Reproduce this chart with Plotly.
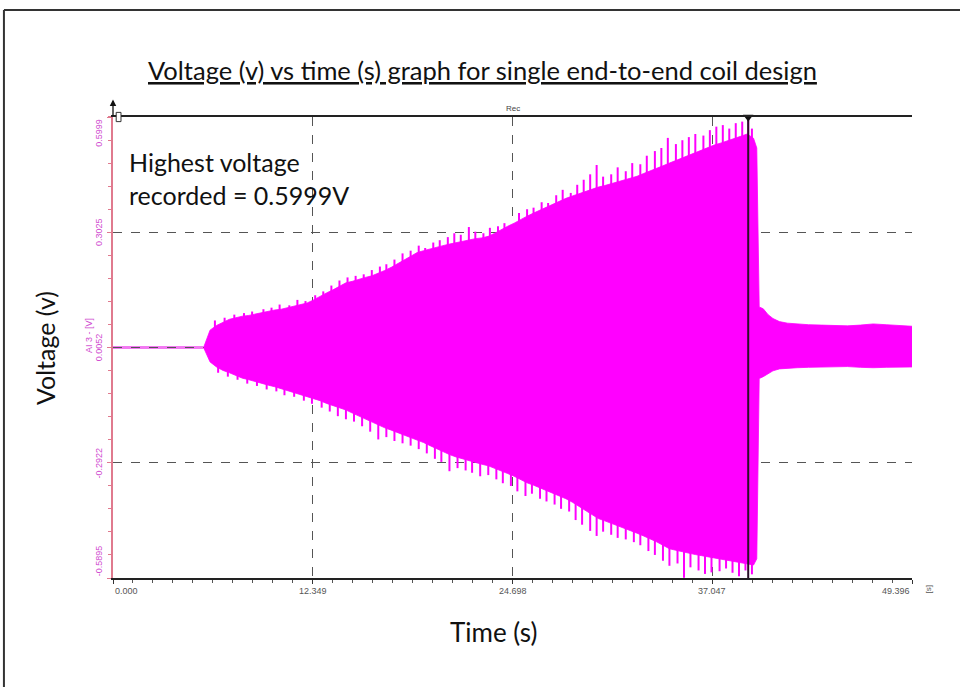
import plotly.graph_objects as go

# Axis ticks of the recorder display
x_ticks = [0.000, 12.349, 24.698, 37.047, 49.396]
x_tick_labels = ["0.000", "12.349", "24.698", "37.047", "49.396"]
y_ticks = [0.5999, 0.3025, 0.0052, -0.2922, -0.5895]
y_tick_labels = ["0.5999", "0.3025", "0.0052", "-0.2922", "-0.5895"]

# Idle baseline before the coil starts producing voltage
idle_t = [0.0, 5.6]
idle_v = [0.0052, 0.0052]

# Body of the oscillation envelope while the amplitude builds up (s, V)
rise_t = [5.6, 6.0, 6.4, 6.8, 7.2, 7.6, 8.0, 8.4, 8.8, 9.2, 9.6, 10.0, 10.4, 10.8,
          11.2, 11.6, 12.0, 12.4, 12.8, 13.2, 13.6, 14.0, 14.4, 14.8, 15.2, 15.6,
          16.0, 16.4, 16.8, 17.2, 17.6, 18.0, 18.4, 18.8, 19.2, 19.6, 20.0, 20.4,
          20.8, 21.2, 21.6, 22.0, 22.4, 22.8, 23.2, 23.6, 24.0, 24.4, 24.8, 25.2,
          25.6, 26.0, 26.4, 26.8, 27.2, 27.6, 28.0, 28.4, 28.8, 29.2, 29.6, 30.0,
          30.4, 30.8, 31.2, 31.6, 32.0, 32.4, 32.8, 33.2, 33.6, 34.0, 34.4, 34.8,
          35.2, 35.6, 36.0, 36.4, 36.8, 37.2, 37.6, 38.0, 38.4, 38.8, 39.2, 39.6]
rise_max = [0.005, 0.050, 0.062, 0.070, 0.078, 0.082, 0.086, 0.088, 0.092, 0.094,
            0.098, 0.102, 0.104, 0.108, 0.112, 0.116, 0.120, 0.128, 0.138, 0.146,
            0.154, 0.164, 0.172, 0.176, 0.182, 0.186, 0.190, 0.196, 0.204, 0.212,
            0.222, 0.232, 0.242, 0.250, 0.255, 0.260, 0.264, 0.268, 0.272, 0.276,
            0.280, 0.284, 0.286, 0.288, 0.292, 0.300, 0.310, 0.318, 0.326, 0.336,
            0.344, 0.352, 0.360, 0.368, 0.376, 0.384, 0.390, 0.396, 0.402, 0.408,
            0.414, 0.419, 0.423, 0.428, 0.432, 0.437, 0.442, 0.447, 0.454, 0.460,
            0.467, 0.474, 0.481, 0.488, 0.494, 0.500, 0.507, 0.514, 0.522, 0.528,
            0.533, 0.538, 0.543, 0.550, 0.556, 0.545]
rise_min = [0.005, -0.032, -0.045, -0.054, -0.060, -0.068, -0.074, -0.078, -0.083,
            -0.088, -0.092, -0.096, -0.101, -0.106, -0.110, -0.115, -0.120, -0.126,
            -0.132, -0.139, -0.144, -0.150, -0.156, -0.164, -0.172, -0.180, -0.188,
            -0.196, -0.202, -0.208, -0.214, -0.220, -0.226, -0.232, -0.240, -0.248,
            -0.256, -0.263, -0.271, -0.277, -0.282, -0.287, -0.291, -0.296, -0.300,
            -0.306, -0.313, -0.320, -0.327, -0.336, -0.344, -0.350, -0.357, -0.363,
            -0.370, -0.377, -0.385, -0.394, -0.404, -0.415, -0.426, -0.436, -0.442,
            -0.448, -0.454, -0.460, -0.468, -0.474, -0.481, -0.488, -0.496, -0.505,
            -0.514, -0.518, -0.522, -0.526, -0.529, -0.532, -0.535, -0.539, -0.542,
            -0.545, -0.548, -0.551, -0.553, -0.556]

# Envelope after the magnet leaves the coil (s, V)
tail_t = [39.8, 39.95, 40.2, 40.5, 40.8, 41.2, 41.7, 42.3, 43.0, 43.8, 44.6, 45.4,
          46.2, 47.0, 47.8, 48.6, 49.396]
tail_max = [0.52, 0.110, 0.105, 0.090, 0.080, 0.072, 0.068, 0.066, 0.064, 0.063,
            0.062, 0.061, 0.063, 0.066, 0.064, 0.062, 0.060]
tail_min = [-0.54, -0.075, -0.070, -0.062, -0.055, -0.050, -0.048, -0.047, -0.046,
            -0.045, -0.045, -0.044, -0.046, -0.047, -0.046, -0.045, -0.045]

# Individual cycle peaks standing out of the envelope (s, V)
peak_hi_t = [6.3, 6.9, 7.5, 8.1, 8.6, 9.3, 9.8, 10.3, 10.9, 11.4, 11.9, 12.5, 13.0,
             13.5, 14.0, 14.5, 15.0, 15.5, 16.0, 16.5, 16.9, 17.4, 17.9, 18.4, 18.9,
             19.3, 19.8, 20.2, 20.7, 21.1, 21.5, 22.0, 22.4, 22.9, 23.3, 23.8, 24.2,
             24.7, 25.1, 25.6, 26.0, 26.5, 26.9, 27.4, 27.8, 28.3, 28.7, 29.1, 29.5,
             29.9, 30.3, 30.8, 31.2, 31.7, 32.1, 32.6, 33.0, 33.5, 33.9, 34.3, 34.8,
             35.2, 35.6, 36.0, 36.5, 36.9, 37.3, 37.7, 38.1, 38.5, 38.9, 39.27, 39.5]
peak_hi_v = [0.075, 0.082, 0.090, 0.094, 0.098, 0.104, 0.108, 0.116, 0.114, 0.128,
             0.125, 0.140, 0.150, 0.165, 0.178, 0.186, 0.190, 0.194, 0.205, 0.214,
             0.220, 0.232, 0.248, 0.255, 0.268, 0.262, 0.276, 0.282, 0.290, 0.300,
             0.296, 0.316, 0.304, 0.300, 0.314, 0.318, 0.326, 0.314, 0.352, 0.362,
             0.366, 0.380, 0.378, 0.398, 0.412, 0.404, 0.425, 0.438, 0.452, 0.476,
             0.446, 0.452, 0.470, 0.460, 0.481, 0.478, 0.500, 0.512, 0.520, 0.546,
             0.530, 0.540, 0.548, 0.556, 0.552, 0.566, 0.575, 0.579, 0.570, 0.584,
             0.588, 0.5999, 0.570]
peak_lo_t = [6.5, 7.1, 7.7, 8.3, 8.9, 9.5, 10.1, 10.6, 11.2, 11.8, 12.3, 12.9, 13.4,
             13.9, 14.4, 14.9, 15.4, 15.9, 16.4, 16.9, 17.4, 17.9, 18.4, 18.9, 19.4,
             19.9, 20.3, 20.8, 21.3, 21.8, 22.2, 22.7, 23.2, 23.7, 24.1, 24.6, 25.0,
             25.5, 25.9, 26.4, 26.8, 27.3, 27.7, 28.2, 28.6, 29.0, 29.5, 29.9, 30.3,
             30.8, 31.2, 31.7, 32.2, 32.6, 33.1, 33.5, 34.0, 34.4, 34.9, 35.3, 35.7,
             36.2, 36.6, 37.0, 37.5, 37.9, 38.3, 38.7, 39.1, 39.5]
peak_lo_v = [-0.060, -0.070, -0.078, -0.088, -0.094, -0.103, -0.108, -0.118, -0.122,
             -0.132, -0.140, -0.150, -0.160, -0.172, -0.180, -0.186, -0.198, -0.212,
             -0.232, -0.226, -0.236, -0.242, -0.248, -0.257, -0.268, -0.282, -0.290,
             -0.314, -0.306, -0.312, -0.318, -0.327, -0.324, -0.335, -0.345, -0.352,
             -0.366, -0.378, -0.372, -0.385, -0.392, -0.400, -0.411, -0.418, -0.440,
             -0.452, -0.468, -0.481, -0.470, -0.478, -0.486, -0.490, -0.497, -0.505,
             -0.520, -0.530, -0.545, -0.558, -0.552, -0.589, -0.562, -0.570, -0.579,
             -0.575, -0.572, -0.565, -0.576, -0.585, -0.570, -0.580]

cursor_t = 39.27
peak_text = "Highest voltage<br>recorded = 0.5999V"

SIG = "#ff00ff"
TICK_PINK = "#d04cd0"
AXIS_PINK = "#e07a8e"
GRID = "#555555"
FONT = "Lato"

env_t = rise_t + tail_t
env_max = rise_max + tail_max
env_min = rise_min + tail_min


def stems(ts, vs, base):
    xs, ys = [], []
    for t, v in zip(ts, vs):
        xs += [t, t, None]
        ys += [base, v, None]
    return xs, ys


fig = go.Figure()
fig.add_trace(go.Scatter(x=idle_t, y=idle_v, mode="lines",
                         line=dict(color="#f27af2", width=3), hoverinfo="skip"))
fig.add_trace(go.Scatter(x=env_t, y=env_max, mode="lines",
                         line=dict(color=SIG, width=0.8), hoverinfo="skip"))
fig.add_trace(go.Scatter(x=env_t, y=env_min, mode="lines", fill="tonexty",
                         fillcolor=SIG, line=dict(color=SIG, width=0.8),
                         hoverinfo="skip"))
for ts, vs in ((peak_hi_t, peak_hi_v), (peak_lo_t, peak_lo_v)):
    sx, sy = stems(ts, vs, idle_v[0])
    fig.add_trace(go.Scatter(x=sx, y=sy, mode="lines", connectgaps=False,
                             line=dict(color=SIG, width=2), hoverinfo="skip"))
# measurement cursor
fig.add_trace(go.Scatter(x=[cursor_t, cursor_t], y=[y_ticks[-1], y_ticks[0]],
                         mode="lines", line=dict(color="#2a1028", width=2),
                         hoverinfo="skip"))
fig.add_trace(go.Scatter(x=[cursor_t], y=[y_ticks[0]], mode="markers",
                         marker=dict(symbol="triangle-down", size=9, color="#111"),
                         cliponaxis=False, hoverinfo="skip"))

annotations = []
# x tick labels
for i, (v, lab) in enumerate(zip(x_ticks, x_tick_labels)):
    anchor = "left" if i == 0 else ("right" if i == len(x_ticks) - 1 else "center")
    annotations.append(dict(x=v, xref="x", y=-0.012, yref="paper", text=lab,
                            showarrow=False, xanchor=anchor, yanchor="top",
                            font=dict(family="Liberation Sans", size=9, color="#555")))
annotations.append(dict(x=1.013, xref="paper", y=-0.012, yref="paper", text="[s]",
                        textangle=-90, showarrow=False, xanchor="left", yanchor="top",
                        font=dict(family="Liberation Sans", size=8, color="#555")))
# y tick labels
for i, (v, lab) in enumerate(zip(y_ticks, y_tick_labels)):
    anchor = "top" if i == 0 else ("bottom" if i == len(y_ticks) - 1 else "middle")
    annotations.append(dict(x=-0.009, xref="paper", y=v, yref="y", text=lab,
                            textangle=-90, showarrow=False, xanchor="right",
                            yanchor=anchor,
                            font=dict(family="Liberation Sans", size=9, color=TICK_PINK)))
annotations.append(dict(x=-0.021, xref="paper", y=y_ticks[2] + 0.03, yref="y",
                        text="AI 3 - [V]", textangle=-90, showarrow=False,
                        xanchor="right", yanchor="middle",
                        font=dict(family="Liberation Sans", size=9, color=TICK_PINK)))
annotations.append(dict(x=x_ticks[2], xref="x", y=1.004, yref="paper", text="Rec",
                        showarrow=False, xanchor="center", yanchor="bottom",
                        font=dict(family="Liberation Sans", size=8, color="#444")))
# axis arrow at the top of the voltage axis
annotations.append(dict(x=0, xref="x", y=1.038, yref="paper", text="", showarrow=True,
                        ax=0, ay=18, arrowhead=2, arrowsize=1, arrowwidth=1.3,
                        arrowcolor="#111"))
# note and titles
annotations.append(dict(x=0.018, xref="paper", y=0.939, yref="paper", text=peak_text,
                        showarrow=False, xanchor="left", yanchor="top", align="left",
                        font=dict(family=FONT, size=25, color="#111")))
annotations.append(dict(x=0.462, xref="paper", y=1.102, yref="paper",
                        text="<u>Voltage (v) vs time (s) graph for single end-to-end coil design</u>",
                        showarrow=False, xanchor="center", yanchor="middle",
                        font=dict(family=FONT, size=25.5, color="#111")))
annotations.append(dict(x=-0.085, xref="paper", y=0.499, yref="paper",
                        text="Voltage (v)", textangle=-90, showarrow=False,
                        xanchor="center", yanchor="middle",
                        font=dict(family=FONT, size=25, color="#111")))
annotations.append(dict(x=0.4756, xref="paper", y=-0.117, yref="paper",
                        text="Time (s)", showarrow=False,
                        xanchor="center", yanchor="middle",
                        font=dict(family=FONT, size=26, color="#111")))

shapes = [
    # page frame
    dict(type="line", xref="paper", yref="paper", x0=-0.1365, x1=-0.1365,
         y0=1.232, y1=-0.25, line=dict(color="#333", width=2)),
    dict(type="line", xref="paper", yref="paper", x0=-0.1365, x1=1.07,
         y0=1.232, y1=1.232, line=dict(color="#333", width=2)),
    # dashed reference over the idle baseline
    dict(type="line", xref="x", yref="y", x0=idle_t[0], x1=idle_t[1],
         y0=y_ticks[2], y1=y_ticks[2], layer="above",
         line=dict(color=GRID, width=1, dash="dash")),
    # channel icon beside the axis arrow
    dict(type="rect", xref="paper", yref="paper", x0=0.004, x1=0.010,
         y0=0.990, y1=1.010, line=dict(color="#333", width=1), fillcolor="white"),
]

fig.update_layout(
    width=960, height=687,
    margin=dict(l=113, r=48, t=117, b=109),
    paper_bgcolor="white", plot_bgcolor="white",
    showlegend=False, hovermode=False,
    annotations=annotations, shapes=shapes,
    xaxis=dict(range=[x_ticks[0], x_ticks[-1]], tickvals=x_ticks,
               showticklabels=False, ticks="outside", ticklen=4, tickcolor="#333",
               showline=True, linecolor="#222", linewidth=1.5, mirror=True,
               showgrid=True, gridcolor=GRID, gridwidth=1, griddash="dash",
               zeroline=False,
               minor=dict(ticks="outside", ticklen=3, tickcolor="#555",
                          tick0=0, dtick=1.2349, showgrid=False)),
    yaxis=dict(range=[y_ticks[-1], y_ticks[0]], tickvals=y_ticks,
               showticklabels=False, ticks="outside", ticklen=4, tickcolor=AXIS_PINK,
               showline=True, linecolor=AXIS_PINK, linewidth=1.5,
               showgrid=True, gridcolor=GRID, gridwidth=1, griddash="dash",
               zeroline=False,
               minor=dict(ticks="outside", ticklen=3, tickcolor=AXIS_PINK,
                          tick0=0.0052, dtick=0.05948, showgrid=False)),
)

fig.write_html("out.html")
